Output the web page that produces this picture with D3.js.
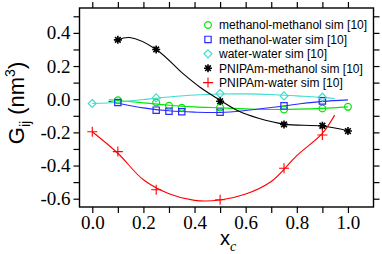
<!DOCTYPE html>
<html>
<head>
<meta charset="utf-8">
<script src="https://cdn.jsdelivr.net/npm/d3@7"></script>
<style>
  body { margin: 0; background: #fff; }
  svg { display: block; }
  .tick text { font-family: "Liberation Serif", "Times New Roman", serif; font-size: 19px; fill: #000; }
  .legend text { font-family: "Liberation Sans", Arial, sans-serif; font-size: 12px; }
</style>
</head>
<body>
<div id="chart"></div>
<script>
// Simulation points (x_c, G_ij in nm^3)
const mmX = [0.1, 0.25, 0.3, 0.35, 0.5, 0.75, 0.9, 1.0];
const mmG = [-0.006, -0.02, -0.04, -0.052, -0.05, -0.062, -0.056, -0.046];

const mwX = [0.1, 0.25, 0.3, 0.35, 0.5, 0.75, 0.9];
const mwG = [-0.02, -0.066, -0.072, -0.076, -0.078, -0.04, -0.01];

const wwX = [0.0, 0.25, 0.5, 0.75, 0.9];
const wwG = [-0.026, 0.008, 0.034, 0.02, 0.012];

const pmX = [0.1, 0.25, 0.5, 0.75, 0.9, 1.0];
const pmG = [0.358, 0.30, -0.012, -0.152, -0.16, -0.192];

const pwX = [0.0, 0.1, 0.25, 0.5, 0.75, 0.9];
const pwG = [-0.196, -0.316, -0.546, -0.606, -0.416, -0.216];

// Fitted curves
const mmFitX = [0.065, 0.1, 0.2, 0.3, 0.4, 0.5, 0.6, 0.7, 0.8, 0.9, 1.0];
const mmFitG = [-0.003, -0.008, -0.022, -0.036, -0.046, -0.052, -0.058, -0.062, -0.06, -0.055, -0.046];

const mwFitX = [0.063, 0.1, 0.2, 0.3, 0.4, 0.5, 0.6, 0.7, 0.8, 0.9, 1.0];
const mwFitG = [-0.012, -0.024, -0.052, -0.07, -0.078, -0.08, -0.068, -0.05, -0.03, -0.013, -0.004];

const wwFitX = [0.0, 0.1, 0.2, 0.3, 0.4, 0.5, 0.6, 0.7, 0.8, 0.9, 0.948];
const wwFitG = [-0.026, -0.018, -0.002, 0.013, 0.025, 0.031, 0.032, 0.028, 0.02, 0.011, 0.004];

const pmFitX = [0.1, 0.147, 0.25, 0.355, 0.42, 0.5, 0.57, 0.65, 0.75, 0.9, 1.0];
const pmFitG = [0.358, 0.372, 0.30, 0.154, 0.074, -0.006, -0.07, -0.115, -0.15, -0.162, -0.19];

const pwFitX = [0.0, 0.1, 0.2, 0.3, 0.4, 0.5, 0.6, 0.7, 0.8, 0.9, 0.948];
const pwFitG = [-0.196, -0.326, -0.486, -0.57, -0.61, -0.608, -0.572, -0.496, -0.34, -0.206, -0.096];

const seriesNames = [
  "methanol-methanol sim [10]",
  "methanol-water sim [10]",
  "water-water sim [10]",
  "PNIPAm-methanol sim [10]",
  "PNIPAm-water sim [10]"
];

const xTicks = d3.range(0, 11).map(d => d / 10);
const xLabels = [0, 0.2, 0.4, 0.6, 0.8, 1.0];
const yTicks = d3.range(-6, 6).map(d => d / 10);
const yLabels = [-0.6, -0.4, -0.2, 0, 0.2, 0.4];

const W = 382, H = 254;
const frame = {left: 79.5, right: 373.5, top: 8, bottom: 207};

const svg = d3.select("#chart").append("svg")
  .attr("width", W)
  .attr("height", H);

const x = d3.scaleLinear().domain([-0.05, 1.1]).range([frame.left, frame.right]);
const y = d3.scaleLinear().domain([-0.65, 0.55]).range([frame.bottom, frame.top]);

const fmt = d => {
  const r = Math.round(d * 10) / 10;
  return r.toFixed(1).replace("\u2212", "-");
};
const isLabel = (list, d) => list.some(v => Math.abs(v - d) < 1e-6);

// custom marker shapes
const asterisk = {
  draw(ctx, size) {
    const r = Math.sqrt(size) / 2;
    for (let i = 0; i < 4; i++) {
      const a = i * Math.PI / 4;
      ctx.moveTo(-r * Math.cos(a), -r * Math.sin(a));
      ctx.lineTo(r * Math.cos(a), r * Math.sin(a));
    }
  }
};
const plus = {
  draw(ctx, size) {
    const r = Math.sqrt(size) / 2;
    ctx.moveTo(-r, 0); ctx.lineTo(r, 0);
    ctx.moveTo(0, -r); ctx.lineTo(0, r);
  }
};
const diamond = {
  draw(ctx, size) {
    const r = Math.sqrt(size) / 2;
    ctx.moveTo(0, -r); ctx.lineTo(r, 0); ctx.lineTo(0, r); ctx.lineTo(-r, 0); ctx.closePath();
  }
};

const series = [
  {name: seriesNames[0], xs: mmX, gs: mmG, fx: mmFitX, fg: mmFitG, color: "#00e600", sym: d3.symbolCircle, size: 36, sw: 1.2},
  {name: seriesNames[1], xs: mwX, gs: mwG, fx: mwFitX, fg: mwFitG, color: "#2b2bff", sym: d3.symbolSquare, size: 40, sw: 1.2},
  {name: seriesNames[2], xs: wwX, gs: wwG, fx: wwFitX, fg: wwFitG, color: "#3fdcd0", sym: diamond, size: 64, sw: 1.2},
  {name: seriesNames[3], xs: pmX, gs: pmG, fx: pmFitX, fg: pmFitG, color: "#000000", sym: asterisk, size: 64, sw: 1.6},
  {name: seriesNames[4], xs: pwX, gs: pwG, fx: pwFitX, fg: pwFitG, color: "#ff0000", sym: plus, size: 100, sw: 1.1}
];

// Axes (ticks outward on all four sides)
svg.append("g")
  .attr("transform", `translate(0,${frame.bottom})`)
  .call(d3.axisBottom(x).tickValues(xTicks).tickSize(6)
    .tickFormat(d => isLabel(xLabels, d) ? fmt(d) : ""));

svg.append("g")
  .attr("transform", `translate(0,${frame.top})`)
  .call(d3.axisTop(x).tickValues(xTicks).tickSize(6).tickFormat(""));

svg.append("g")
  .attr("transform", `translate(${frame.left},0)`)
  .call(d3.axisLeft(y).tickValues(yTicks).tickSize(6)
    .tickFormat(d => isLabel(yLabels, d) ? fmt(d) : ""));

svg.append("g")
  .attr("transform", `translate(${frame.right},0)`)
  .call(d3.axisRight(y).tickValues(yTicks).tickSize(6).tickFormat(""));

svg.selectAll(".domain").remove();
svg.selectAll(".tick line").attr("stroke", "#000").attr("stroke-width", 1.2);

svg.append("rect")
  .attr("x", frame.left)
  .attr("y", frame.top)
  .attr("width", frame.right - frame.left)
  .attr("height", frame.bottom - frame.top)
  .attr("fill", "none")
  .attr("stroke", "#000")
  .attr("stroke-width", 1.4);

// Fitted lines
const line = d3.line()
  .x(d => x(d[0]))
  .y(d => y(d[1]))
  .curve(d3.curveCatmullRom.alpha(0.5));

svg.selectAll(".fit")
  .data(series)
  .join("path")
    .attr("class", "fit")
    .attr("d", s => line(s.fx.map((v, i) => [v, s.fg[i]])))
    .attr("fill", "none")
    .attr("stroke", s => s.color)
    .attr("stroke-width", 1.1);

// Markers
series.forEach(s => {
  const sym = d3.symbol().type(s.sym).size(s.size);
  svg.append("g")
    .selectAll("path")
    .data(s.xs.map((v, i) => [v, s.gs[i]]))
    .join("path")
      .attr("transform", d => `translate(${x(d[0])},${y(d[1])})`)
      .attr("d", sym)
      .attr("fill", "none")
      .attr("stroke", s.color)
      .attr("stroke-width", s.sw);
});

// Legend
const legend = svg.append("g")
  .attr("class", "legend")
  .selectAll("g")
  .data(series)
  .join("g")
    .attr("transform", (d, i) => `translate(208,${25 + i * 14.4})`);

legend.append("path")
  .attr("d", s => d3.symbol().type(s.sym).size(s.size)())
  .attr("fill", "none")
  .attr("stroke", s => s.color)
  .attr("stroke-width", s => s.sw);

legend.append("text")
  .attr("x", 11)
  .attr("dy", "0.36em")
  .text(s => s.name);

// Axis titles
const yTitle = svg.append("text")
  .attr("transform", "translate(24,103) rotate(-90)")
  .attr("text-anchor", "middle")
  .style("font-family", "'Liberation Sans', Arial, sans-serif")
  .style("font-size", "22px");
yTitle.append("tspan").text("G");
yTitle.append("tspan").attr("dy", 6).style("font-size", "14px").text("ij");
yTitle.append("tspan").attr("dy", -6).text(" (nm");
yTitle.append("tspan").attr("dy", -9).style("font-size", "14px").text("3");
yTitle.append("tspan").attr("dy", 9).text(")");

const xTitle = svg.append("text")
  .attr("x", 220)
  .attr("y", 245)
  .style("font-family", "'Liberation Sans', Arial, sans-serif")
  .style("font-size", "20px");
xTitle.append("tspan").text("x");
xTitle.append("tspan")
  .attr("dy", 6)
  .style("font-family", "'Liberation Serif', serif")
  .style("font-style", "italic")
  .style("font-size", "14px")
  .text("c");
</script>
</body>
</html>
